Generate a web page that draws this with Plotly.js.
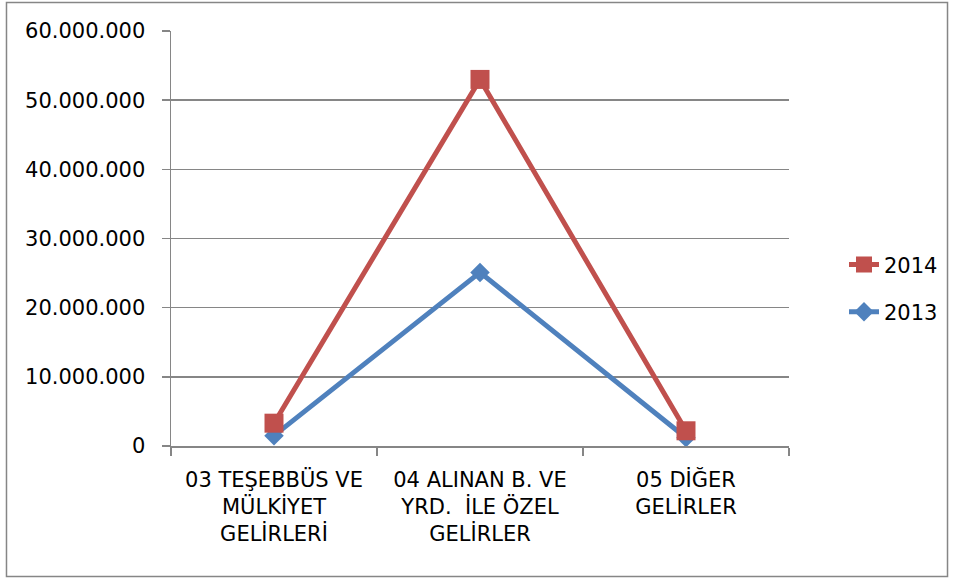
<!DOCTYPE html>
<html><head><meta charset="utf-8">
<script src="https://cdn.plot.ly/plotly-3.0.1.min.js"></script>
<style>html,body{margin:0;padding:0;background:#fff}#chart{width:956px;height:581px}</style>
</head><body><div id="chart"></div>
<script>
const categories = ["03 TEŞEBBÜS VE<br>MÜLKİYET<br>GELİRLERİ", "04 ALINAN B. VE<br>YRD.  İLE ÖZEL<br>GELİRLER", "05 DİĞER<br>GELİRLER"];
const values2014 = [3300000, 53000000, 2200000];
const values2013 = [1500000, 25100000, 1200000];
const yTicks = [0, 10000000, 20000000, 30000000, 40000000, 50000000, 60000000];

const FONT = "DejaVu Sans";
const FS = 21;
const traces = [
  {x: categories, y: values2013, name: "2013", legendgroup: "b", legendrank: 2, type: "scatter", mode: "lines+markers",
   line: {color: "#4F81BD", width: 5}, marker: {symbol: "diamond", size: 15, color: "#4F81BD"}},
  {x: categories, y: values2014, name: "2014", legendgroup: "a", legendrank: 1, type: "scatter", mode: "lines+markers",
   line: {color: "#C0504D", width: 5}, marker: {symbol: "square", size: 19, color: "#C0504D"}}
];
const layout = {
  width: 956, height: 581,
  margin: {l: 171, r: 167, t: 31, b: 135},
  paper_bgcolor: "#fff", plot_bgcolor: "#fff",
  separators: ",.",
  font: {family: FONT, size: FS, color: "#000"},
  showlegend: true,
  legend: {x: 1.089, y: 0.38, xanchor: "left", yanchor: "middle", traceorder: "grouped",
           font: {family: FONT, size: FS, color: "#000"}, tracegroupgap: 17},
  xaxis: {type: "category", range: [-0.5, 2.5], tickson: "boundaries", ticks: "outside", ticklen: 8,
          tickcolor: "#868686", tickwidth: 1.5, showline: true, linecolor: "#868686", linewidth: 1.5,
          showgrid: false, zeroline: false, ticklabelstandoff: 14, tickangle: 0,
          tickfont: {family: FONT, size: FS, color: "#000"}},
  yaxis: {range: [0, 60000000], tickvals: yTicks, tickformat: ",d", ticks: "outside", ticklen: 8,
          tickcolor: "#868686", tickwidth: 1.5, showline: true, linecolor: "#868686", linewidth: 1.5,
          showgrid: true, gridcolor: "#868686", gridwidth: 1.5, zeroline: false, ticklabelstandoff: 12,
          tickfont: {family: FONT, size: FS, color: "#000"}},
  shapes: [{type: "rect", xref: "paper", yref: "paper", x0: -0.2662, x1: 1.2565, y0: -0.3145, y1: 1.0687,
            line: {color: "#868686", width: 1.5}, fillcolor: "rgba(0,0,0,0)", layer: "below"}]
};
Plotly.newPlot("chart", traces, layout, {displayModeBar: false, staticPlot: true});
</script></body></html>
